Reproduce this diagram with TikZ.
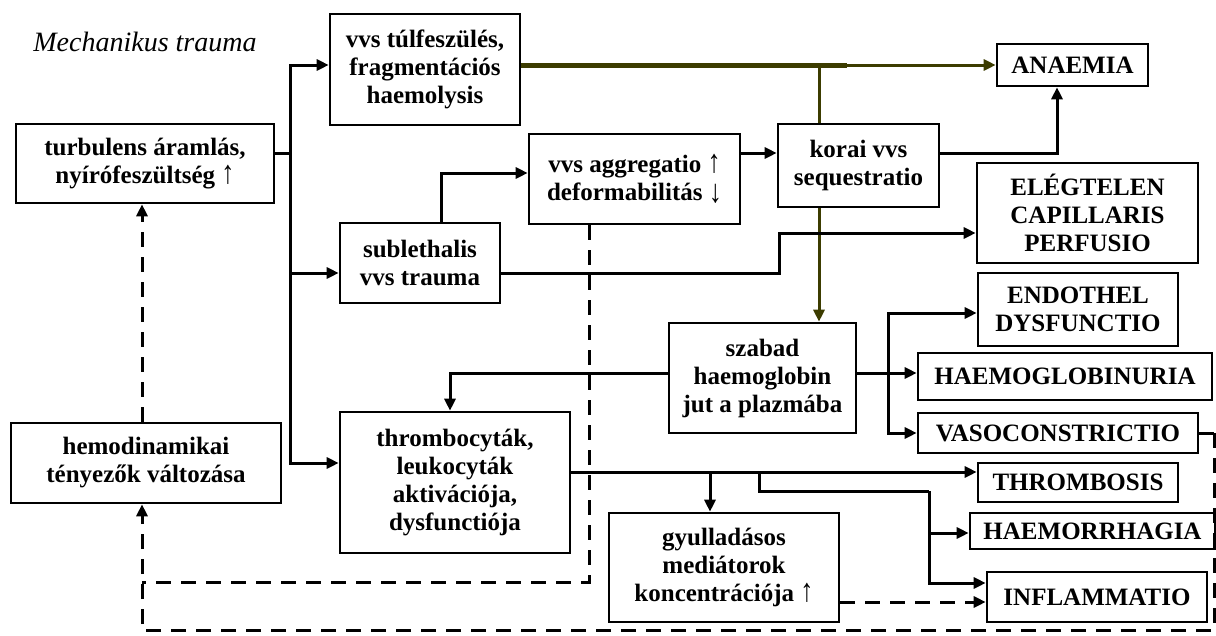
\documentclass[tikz,border=0pt]{standalone}
\usepackage{fontspec}
\setmainfont{Liberation Serif}
\usetikzlibrary{arrows.meta}
\definecolor{olivec}{RGB}{60,60,0}
\newcommand\myup{\scalebox{1.05}[1.3]{\mdseries ↑}}
\newcommand\mydown{\raisebox{-0.08em}{\scalebox{1.05}[1.3]{\mdseries ↓}}}
\begin{document}
\begin{tikzpicture}[x=1pt,y=-1pt,
  box/.style={draw,line width=2.6pt,inner sep=0pt,align=center,
    font=\bfseries\fontsize{25}{28}\selectfont},
  tip/.style={-{Triangle[length=12pt,width=11pt]}},
  line/.style={line width=3pt},
  conn/.style={line,tip},
  oconn/.style={line,olivec,tip},
  dashc/.style={line width=3pt,dash pattern=on 15pt off 10pt},
  dconn/.style={dashc,tip}]
\useasboundingbox (0,0) rectangle (1216,635);

\node[font=\itshape\fontsize{28}{30}\selectfont] (title) at (145,42) {Mechanikus trauma};

\node[box,minimum width=258pt,minimum height=79pt] (turb) at (145,163.5) {turbulens áramlás,\\nyírófeszültség \myup};
\node[box,minimum width=190pt,minimum height=111pt] (tul) at (425,69.5) {vvs túlfeszülés,\\fragmentációs\\haemolysis};
\node[box,minimum width=211pt,minimum height=90pt] (aggr) at (634.5,179) {vvs aggregatio \myup\\deformabilitás \mydown};
\node[box,minimum width=160pt,minimum height=80pt] (subl) at (420,263) {sublethalis\\vvs trauma};
\node[box,minimum width=161pt,minimum height=83pt] (korai) at (858.5,165.5) {korai vvs\\sequestratio};
\node[box,minimum width=151pt,minimum height=42pt] (anaemia) at (1072.5,65) {ANAEMIA};
\node[box,minimum width=221pt,minimum height=100pt] (eleg) at (1087.5,213) {ELÉGTELEN\\CAPILLARIS\\PERFUSIO};
\node[box,minimum width=200pt,minimum height=73pt] (endo) at (1078,309.5) {ENDOTHEL\\DYSFUNCTIO};
\node[box,minimum width=294pt,minimum height=47pt] (hburia) at (1065,376.5) {HAEMOGLOBINURIA};
\node[box,minimum width=280pt,minimum height=40pt] (vaso) at (1058,433) {VASOCONSTRICTIO};
\node[box,minimum width=200pt,minimum height=39pt] (thromb) at (1078,482.5) {THROMBOSIS};
\node[box,minimum width=245pt,minimum height=36pt] (haemorr) at (1092.5,531) {HAEMORRHAGIA};
\node[box,minimum width=220pt,minimum height=50pt] (infl) at (1097,597) {INFLAMMATIO};
\node[box,minimum width=187pt,minimum height=110pt] (szabad) at (762.5,378) {szabad\\haemoglobin\\jut a plazmába};
\node[box,minimum width=230pt,minimum height=141pt] (thromboc) at (455,482.5) {thrombocyták,\\leukocyták\\aktivációja,\\dysfunctiója};
\node[box,minimum width=230pt,minimum height=109pt] (gyull) at (724,567.5) {gyulladásos\\mediátorok\\koncentrációja \myup};
\node[box,minimum width=270pt,minimum height=80pt] (hemo) at (146,463) {hemodinamikai\\tényezők változása};

% left bus
\coordinate (bt) at (290,65);
\coordinate (b1) at (290,153);
\coordinate (bm) at (290,273);
\coordinate (bb) at (290,463);
\draw[line] (turb.east |- b1) -- (b1);
\draw[conn] (b1) |- (tul.west |- bt);
\draw[conn] (b1) |- (thromboc.west |- bb);
\draw[conn] (bm) -- (subl.west |- bm);

% olive
\coordinate (ov) at (819,65);
\coordinate (o1) at (847,65);
\draw[line width=5pt,olivec] (tul.east |- ov) -- (o1);
\draw[oconn] (o1) -- (anaemia.west |- o1);
\draw[line,olivec] (ov) -- (korai.north -| ov);
\draw[oconn] (korai.south -| ov) -- (szabad.north -| ov);

% sublethalis
\coordinate (s1) at (441,173);
\coordinate (s2) at (779,273);
\coordinate (s3) at (779,233);
\draw[conn] (subl.north -| s1) |- (aggr.west |- s1);
\draw[conn] (subl.east |- s2) -- (s2) -- (s3) -- (eleg.west |- s3);

% aggregatio / korai
\coordinate (a1) at (760,153);
\draw[conn] (aggr.east |- a1) -- (korai.west |- a1);
\coordinate (k1) at (1057,153);
\draw[conn] (korai.east |- k1) -| (anaemia.south -| k1);

% szabad haemoglobin
\coordinate (z1) at (450,373);
\draw[conn] (szabad.west |- z1) -| (thromboc.north -| z1);
\draw[conn] (szabad.east |- z1) -- (hburia.west |- z1);
\coordinate (e1) at (888,313);
\coordinate (e2) at (888,433);
\draw[conn] (e2) |- (endo.west |- e1);
\draw[conn] (e1) |- (vaso.west |- e2);

% thrombocytak
\coordinate (t1) at (710,472);
\coordinate (t2) at (759,472);
\coordinate (t3) at (929,491);
\coordinate (t4) at (929,583);
\coordinate (t5) at (929,533);
\draw[conn] (thromboc.east |- t1) -- (thromb.west |- t1);
\draw[conn] (t1) -- (gyull.north -| t1);
\draw[line] (t2) |- (t3);
\draw[conn] (t3) |- (infl.west |- t4);
\draw[conn] (t5) -- (haemorr.west |- t5);

% dashed feedback
\coordinate (g1) at (850,602);
\draw[dconn] (gyull.east |- g1) -- (infl.west |- g1);
\coordinate (d1) at (589,582);
\coordinate (d2) at (142,582);
\coordinate (d3) at (142,630);
\coordinate (d4) at (1214,630);
\coordinate (d5) at (1214,433);
\draw[dashc] (aggr.south -| d1) -- (d1) -- (d2);
\draw[line] (vaso.east |- d5) -- (d5);
\draw[dconn] (d5) -- (d4) -- (d3) -- (hemo.south -| d3);
\draw[dconn] (hemo.north -| d3) -- (turb.south -| d3);
\end{tikzpicture}
\end{document}
